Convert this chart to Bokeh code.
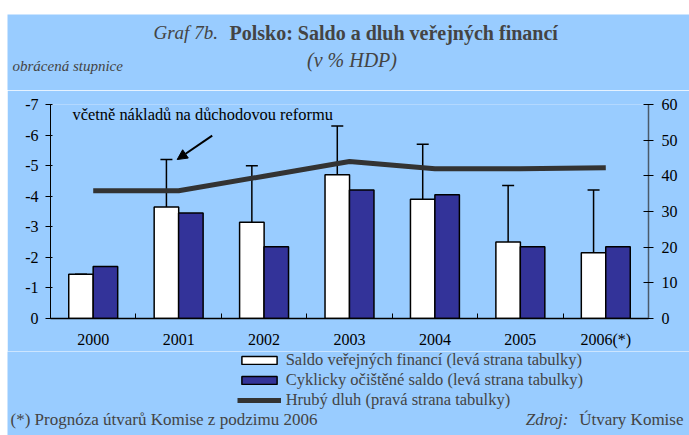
import numpy as np
from bokeh.plotting import figure
from bokeh.models import (ColumnDataSource, Range1d, LinearAxis, FixedTicker, Legend, LegendItem,
                          Whisker, TeeHead, Arrow, NormalHead, Label, Spacer)
from bokeh.layouts import column, row
from bokeh.transform import dodge
from bokeh.embed import file_html
from bokeh.resources import INLINE

# ---- data ----
years = ["2000", "2001", "2002", "2003", "2004", "2005", "2006(*)"]
saldo = [-1.45, -3.65, -3.15, -4.7, -3.9, -2.5, -2.15]
cyclic = [-1.7, -3.45, -2.35, -4.2, -4.05, -2.35, -2.35]
saldo_incl_reform = [-1.45, -5.2, -5.0, -6.3, -5.7, -4.35, -4.2]
debt = [35.8, 35.8, 39.9, 44.0, 42.0, 42.0, 42.3]
left_ticks = [0, -1, -2, -3, -4, -5, -6, -7]
right_ticks = [0, 10, 20, 30, 40, 50, 60]
legend_labels = ["Saldo veřejných financí (levá strana tabulky)",
                 "Cyklicky očištěné saldo (levá strana tabulky)",
                 "Hrubý dluh (pravá strana tabulky)"]

BG = "#99CCFF"
FONT = "Liberation Serif"
W = 682
WHITE_BAR = dict(fill_color="white", line_color="black", line_width=1.5)
BLUE_BAR = dict(fill_color="#333399", line_color="black", line_width=1.5)
DEBT_LINE = dict(line_color="#333333", line_width=5)

x = np.arange(len(years)) + 0.5
src = ColumnDataSource(dict(x=x, saldo=saldo, cyclic=cyclic, hi=saldo_incl_reform, debt=debt))


def text_fig(h):
    f = figure(width=W, height=h, x_range=Range1d(0, W), y_range=Range1d(h, 0),
               output_backend="svg", toolbar_location=None, frame_align=False,
               x_axis_location=None, y_axis_location=None,
               min_border=0, min_border_left=0, min_border_right=0, min_border_top=0, min_border_bottom=0,
               background_fill_color=BG, border_fill_color=BG, outline_line_color=None)
    f.grid.visible = False
    return f


# ---- header ----
top = text_fig(76)
top.add_layout(Label(x=146, y=18, text="Graf 7b.", text_font=FONT, text_font_style="italic",
                     text_font_size="19px", text_baseline="middle"))
top.add_layout(Label(x=222, y=18, text="Polsko: Saldo a dluh veřejných financí", text_font=FONT,
                     text_font_style="bold", text_font_size="20px", text_baseline="middle"))
top.add_layout(Label(x=344.5, y=45, text="(v % HDP)", text_font=FONT, text_font_style="italic",
                     text_font_size="20px", text_baseline="middle", text_align="center"))
top.add_layout(Label(x=5, y=51, text="obrácená stupnice", text_font=FONT, text_font_style="italic",
                     text_font_size="15px", text_baseline="middle"))

# ---- main chart ----
p = figure(width=W, frame_width=598, frame_height=214, x_range=Range1d(0, len(years)),
           y_range=Range1d(left_ticks[0], left_ticks[-1]),
           output_backend="svg", toolbar_location=None, frame_align=False,
           x_axis_location=None, y_axis_location=None,
           min_border_left=43, min_border_right=41, min_border_top=14, min_border_bottom=33,
           background_fill_color=BG, border_fill_color=BG, outline_line_color=None)
p.grid.visible = False
p.extra_y_ranges = {"debt": Range1d(right_ticks[0], right_ticks[-1])}

xaxis = LinearAxis(ticker=FixedTicker(ticks=list(x), minor_ticks=list(np.arange(1, len(years)))),
                   major_label_overrides={float(xi): yr for xi, yr in zip(x, years)})
xaxis.major_tick_line_color = None
xaxis.major_tick_in = 0
xaxis.major_tick_out = 0
xaxis.minor_tick_in = 5
xaxis.minor_tick_out = 0
xaxis.minor_tick_line_color = "black"
xaxis.axis_line_color = "black"
xaxis.axis_line_width = 1.5
xaxis.major_label_standoff = 12
xaxis.major_label_text_font = FONT
xaxis.major_label_text_font_size = "16px"
xaxis.major_label_text_color = "black"
p.add_layout(xaxis, "below")

laxis = LinearAxis(ticker=FixedTicker(ticks=left_ticks),
                   major_label_overrides={t: str(t) for t in left_ticks})
laxis.major_tick_in = 2
laxis.major_tick_out = 5
laxis.axis_line_color = "black"
laxis.major_tick_line_color = "black"
laxis.major_label_standoff = 7
laxis.major_label_text_font = FONT
laxis.major_label_text_font_size = "16px"
laxis.major_label_text_color = "black"
p.add_layout(laxis, "left")

raxis = LinearAxis(y_range_name="debt", ticker=FixedTicker(ticks=right_ticks))
raxis.major_tick_in = 5
raxis.major_tick_out = 5
raxis.axis_line_color = "#4a5a6a"
raxis.axis_line_width = 1.5
raxis.major_tick_line_color = "black"
raxis.major_label_standoff = 8
raxis.major_label_text_font = FONT
raxis.major_label_text_font_size = "16px"
raxis.major_label_text_color = "black"
p.add_layout(raxis, "right")

p.vbar(x=dodge("x", -0.143), top="saldo", bottom=0, width=0.287, source=src, **WHITE_BAR)
p.vbar(x=dodge("x", 0.143), top="cyclic", bottom=0, width=0.287, source=src, **BLUE_BAR)

wh = Whisker(source=src, base=dodge("x", -0.143), upper="hi", lower="saldo",
             upper_head=TeeHead(size=12, line_color="black", line_width=1.5),
             lower_head=None, line_color="black", line_width=1.5)
p.add_layout(wh)

p.line("x", "debt", source=src, y_range_name="debt", **DEBT_LINE)

p.add_layout(Label(x=0.258, y=-6.67, text="včetně nákladů na důchodovou reformu",
                   text_font=FONT, text_font_size="16.4px", text_baseline="middle", text_color="black"))
p.add_layout(Arrow(x_start=1.893, y_start=-5.98, x_end=1.483, y_end=-5.20, line_width=2,
                   end=NormalHead(size=10, fill_color="black", line_color="black")))

# ---- footer: legend + notes ----
FH = 84
foot = text_fig(FH)
# hidden copies of the series: they only provide the legend swatches
lg1 = foot.vbar(x="x", top="saldo", width=0.287, source=src, visible=False, **WHITE_BAR)
lg2 = foot.vbar(x="x", top="cyclic", width=0.287, source=src, visible=False, **BLUE_BAR)
lg3 = foot.line(x="x", y="debt", source=src, visible=False, **DEBT_LINE)
legend = Legend(items=[LegendItem(label=legend_labels[0], renderers=[lg1]),
                       LegendItem(label=legend_labels[1], renderers=[lg2]),
                       LegendItem(label=legend_labels[2], renderers=[lg3])],
                location=(229.7, 25), border_line_color=None, background_fill_alpha=0,
                glyph_width=44, glyph_height=10, label_standoff=5, label_text_font=FONT,
                label_text_font_size="16.5px", label_height=19, spacing=0, padding=0, margin=0,
                inactive_fill_alpha=0)
foot.add_layout(legend)

foot.add_layout(Label(x=3, y=68, text="(*) Prognóza útvarů Komise z podzimu 2006", text_font=FONT,
                      text_font_size="17px", text_baseline="middle"))
foot.add_layout(Label(x=561, y=68, text="Zdroj:", text_font=FONT, text_font_style="italic",
                      text_font_size="17px", text_baseline="middle", text_align="right"))
foot.add_layout(Label(x=676, y=68, text="Útvary Komise", text_font=FONT,
                      text_font_size="17px", text_baseline="middle", text_align="right"))

layout = column(Spacer(height=14, width=689),
                row(Spacer(width=7, height=421), column(top, p, foot, spacing=0), spacing=0),
                spacing=0)
open("out.html", "w").write(file_html(layout, INLINE))
